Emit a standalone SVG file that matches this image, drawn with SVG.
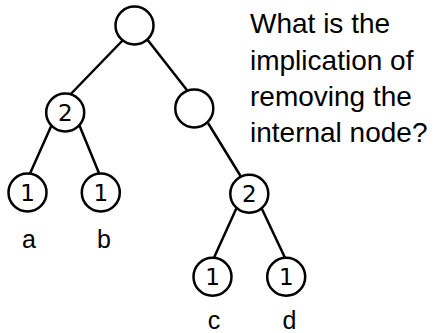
<svg xmlns="http://www.w3.org/2000/svg" width="434" height="333" viewBox="0 0 434 333">
  <style>
    .edge { stroke: #000; stroke-width: 2.5; fill: none; }
    .node circle { fill: #fff; stroke: #000; stroke-width: 2.5; }
    .num { font-family: "DejaVu Sans", "Liberation Sans", sans-serif; font-size: 23px; fill: #000; text-anchor: middle; }
    .label { font-family: "Liberation Sans", Arial, sans-serif; font-size: 25px; fill: #000; text-anchor: middle; }
    .note { font-family: "Liberation Sans", Arial, sans-serif; font-size: 28px; fill: #000; }
  </style>
  <rect width="434" height="333" fill="#fff"/>

  <!-- tree edges -->
  <g id="connectors">
    <line class="edge" x1="123" y1="40" x2="65" y2="100"/>
    <line class="edge" x1="147.7" y1="40" x2="190" y2="94"/>
    <line class="edge" x1="53" y1="122" x2="28" y2="178"/>
    <line class="edge" x1="78" y1="122" x2="101" y2="178"/>
    <line class="edge" x1="208" y1="123" x2="243" y2="180"/>
    <line class="edge" x1="237" y1="207" x2="212" y2="262"/>
    <line class="edge" x1="261" y1="207" x2="287" y2="262"/>
  </g>

  <!-- nodes -->
  <g id="root" class="node">
    <circle cx="134.5" cy="25.5" r="19"/>
  </g>
  <g id="left-internal" class="node">
    <circle cx="65.2" cy="112.5" r="19"/>
    <text class="num" x="65.2" y="121">2</text>
  </g>
  <g id="right-internal" class="node">
    <circle cx="194.3" cy="108.4" r="19"/>
  </g>
  <g id="leaf-a" class="node">
    <circle cx="27.5" cy="192.5" r="19"/>
    <text class="num" x="27.5" y="201">1</text>
    <text class="label" x="29" y="247.7">a</text>
  </g>
  <g id="leaf-b" class="node">
    <circle cx="100.8" cy="192.5" r="19"/>
    <text class="num" x="100.8" y="201">1</text>
    <text class="label" x="104" y="247.7">b</text>
  </g>
  <g id="right-weight" class="node">
    <circle cx="249.3" cy="193.8" r="19"/>
    <text class="num" x="249.3" y="202.3">2</text>
  </g>
  <g id="leaf-c" class="node">
    <circle cx="212.5" cy="276.7" r="19"/>
    <text class="num" x="212.5" y="285.2">1</text>
    <text class="label" x="214" y="329.3">c</text>
  </g>
  <g id="leaf-d" class="node">
    <circle cx="286.2" cy="276.7" r="19"/>
    <text class="num" x="286.2" y="285.2">1</text>
    <text class="label" x="289.5" y="329.3">d</text>
  </g>

  <!-- question -->
  <g id="question">
    <text class="note" x="250" y="33.3">What is the</text>
    <text class="note" x="250" y="69.5">implication of</text>
    <text class="note" x="250" y="106">removing the</text>
    <text class="note" x="250" y="142">internal node?</text>
  </g>
</svg>
